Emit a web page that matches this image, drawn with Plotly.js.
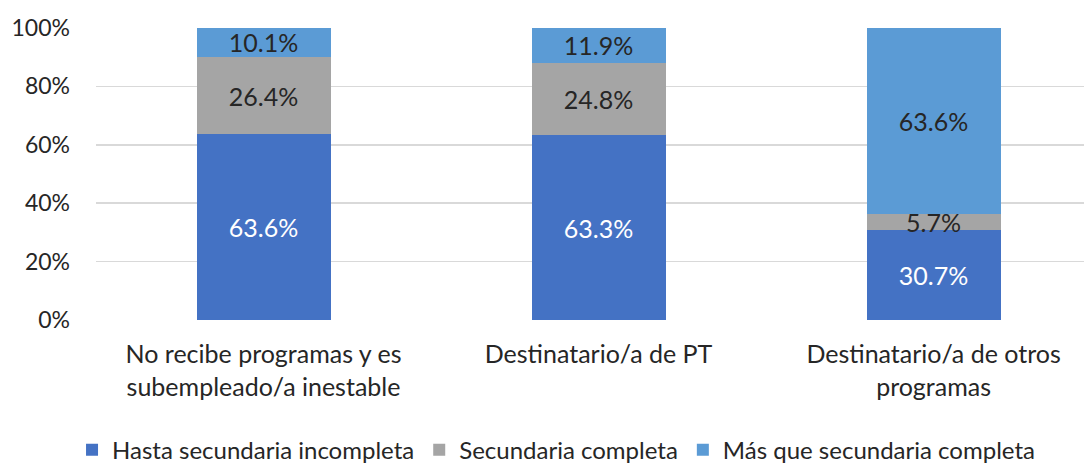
<!DOCTYPE html>
<html>
<head>
<meta charset="utf-8">
<script src="https://cdn.plot.ly/plotly-3.0.1.min.js"></script>
<style>html,body{margin:0;padding:0;background:#fff;}#chart{width:1086px;height:464px;}</style>
</head>
<body>
<div id="chart"></div>
<script>
const categories = ["No recibe programas y es<br>subempleado/a inestable", "Destinatario/a de PT", "Destinatario/a de otros<br>programas"];
const seriesNames = ["Hasta secundaria incompleta", "Secundaria completa", "Más que secundaria completa"];
const hastaIncompleta = [63.6, 63.3, 30.7];
const secundariaCompleta = [26.4, 24.8, 5.7];
const masQueSecundaria = [10.1, 11.9, 63.6];
const yTicks = [0, 20, 40, 60, 80, 100];

const FONT = "Lato, 'Open Sans', sans-serif";
const colors = ["#4472C4", "#A5A5A5", "#5B9BD5"];
const textColors = ["#ffffff", "#262626", "#262626"];
const allSeries = [hastaIncompleta, secundariaCompleta, masQueSecundaria];

const traces = allSeries.map((vals, i) => ({
  type: "bar",
  name: seriesNames[i],
  x: categories,
  y: vals,
  width: 0.4,
  marker: {color: colors[i], line: {width: 0}},
  text: vals.map(v => v.toFixed(1) + "%"),
  textposition: "inside",
  insidetextanchor: "middle",
  constraintext: "none",
  textfont: {family: FONT, size: 25, color: textColors[i]},
  hoverinfo: "skip"
}));

const layout = {
  width: 1086, height: 464,
  barmode: "stack",
  bargap: 0,
  margin: {l: 96, r: 2, t: 28, b: 144, autoexpand: false},
  paper_bgcolor: "#fff", plot_bgcolor: "#fff",
  font: {family: FONT, size: 23, color: "#404040"},
  xaxis: {
    type: "category",
    range: [-0.5, 2.449],
    automargin: false,
    showgrid: false, zeroline: false, showline: false,
    ticks: "", ticklabelstandoff: 17,
    tickfont: {family: FONT, size: 25, color: "#262626"}
  },
  yaxis: {
    range: [0, 100],
    automargin: false,
    tickvals: yTicks,
    ticktext: yTicks.map(v => v + "%"),
    showgrid: true, gridcolor: "#d9d9d9", gridwidth: 1.5,
    zeroline: false, showline: false,
    ticks: "", ticklabelstandoff: 25,
    tickfont: {family: FONT, size: 23, color: "#262626"}
  },
  showlegend: true,
  legend: {
    orientation: "h",
    xref: "container", x: 0.512, xanchor: "center",
    yref: "container", y: 0.03, yanchor: "middle",
    font: {family: FONT, size: 24, color: "#262626"},
    itemwidth: 30, tracegroupgap: 0, traceorder: "normal"
  }
};

Plotly.newPlot("chart", traces, layout, {displayModeBar: false, staticPlot: true});
</script>
</body>
</html>
